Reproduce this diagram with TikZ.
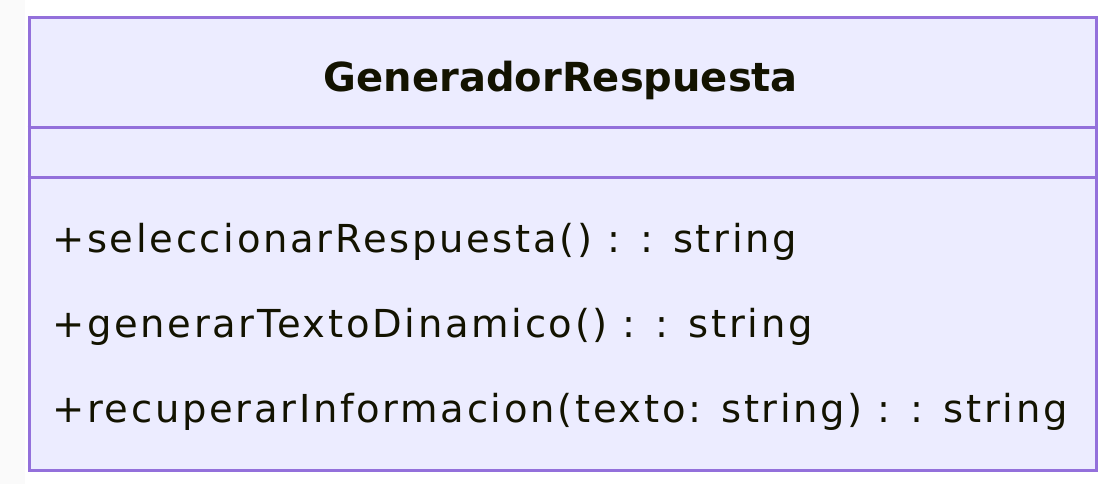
\documentclass[tikz,border=0pt]{standalone}
\usepackage{fontspec}
\setmainfont{DejaVu Sans}
\newfontfamily\memberfont[LetterSpace=7]{DejaVu Sans}
\definecolor{boxfill}{HTML}{ECECFF}
\definecolor{boxline}{HTML}{9370DB}
\definecolor{txt}{HTML}{131300}
\definecolor{strip}{HTML}{FAFAFA}
\begin{document}
\begin{tikzpicture}[x=1pt,y=-1pt,
  member/.style={anchor=base west,inner sep=0pt,text=txt,font=\memberfont\fontsize{38.5}{40}\selectfont},
  title/.style={anchor=base,inner sep=0pt,text=txt,font=\fontsize{40}{44}\selectfont\bfseries},
  sep/.style={draw=boxline,line width=3pt}]
\useasboundingbox (0,0) rectangle (1108,484);
\fill[white] (0,0) rectangle (1108,484);
\fill[strip] (0,0) rectangle (25,484);
\node[draw=boxline,fill=boxfill,line width=3pt,minimum width=1067pt,minimum height=452pt,inner sep=0pt,anchor=north west] (cls) at (27.5,16.5) {};
\coordinate (l1) at (27.5,128);
\coordinate (r1) at (1094.5,128);
\coordinate (l2) at (27.5,177);
\coordinate (r2) at (1094.5,177);
\draw[sep] (l1) -- (r1);
\draw[sep] (l2) -- (r2);
\node[title] (t) at (561,92) {GeneradorRespuesta};
\node[member] (m1) at (52,252) {+seleccionarRespuesta() : : string};
\node[member] (m2) at (52,337) {+generarTextoDinamico() : : string};
\node[member] (m3) at (52,422) {+recuperarInformacion(texto: string) : : string};
\end{tikzpicture}
\end{document}
